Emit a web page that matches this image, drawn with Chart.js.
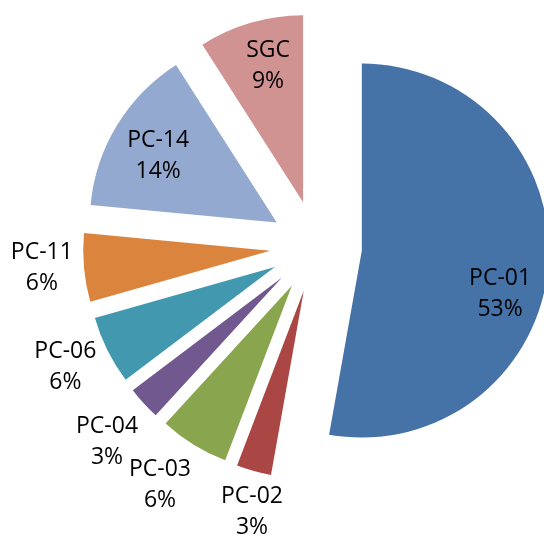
<!DOCTYPE html>
<html>
<head>
<meta charset="utf-8">
<script src="https://cdn.jsdelivr.net/npm/chart.js@4.4.0/dist/chart.umd.min.js"></script>
<style>
  html, body { margin: 0; padding: 0; background: #fff; }
  #wrap { width: 544px; height: 540px; }
</style>
</head>
<body>
<div id="wrap"><canvas id="shareChart" width="544" height="540"></canvas></div>
<script>
const labels = ["PC-01", "PC-02", "PC-03", "PC-04", "PC-06", "PC-11", "PC-14", "SGC"];
const shares = [52.8, 3.0, 6.0, 2.9, 5.9, 5.9, 14.45, 9.05];
const colors = ['#4572A7', '#AA4643', '#89A54E', '#71588F', '#4198AF', '#DB843D', '#93A9CF', '#D19392'];

// every slice pulled out from the centre by the same distance
const explode = 46;
// label placement: distance from slice tip and a small turn (degrees) off the mid angle
const labelDist = [145, 227, 239, 240, 232, 229, 136, 141];
const labelTurn = [12.5, -2.3, 1.8, -0.9, 1.0, 0.9, -2.1, 1.9];

const explodePlugin = {
    id: 'explode',
    afterDatasetUpdate(chart, args) {
        args.meta.data.forEach(arc => {
            const mid = (arc.startAngle + arc.endAngle) / 2;
            arc.x += Math.cos(mid) * explode;
            arc.y += Math.sin(mid) * explode;
        });
    }
};

const labelPlugin = {
    id: 'sliceLabels',
    afterDatasetsDraw(chart) {
        const ctx = chart.ctx;
        const meta = chart.getDatasetMeta(0);
        const total = shares.reduce((a, b) => a + b, 0);
        ctx.save();
        ctx.font = '23px "Open Sans"';
        ctx.fillStyle = '#000';
        ctx.textAlign = 'center';
        ctx.textBaseline = 'middle';
        meta.data.forEach((arc, i) => {
            const a = (arc.startAngle + arc.endAngle) / 2 + labelTurn[i] * Math.PI / 180;
            const x = arc.x + Math.cos(a) * labelDist[i];
            const y = arc.y + Math.sin(a) * labelDist[i];
            const pct = Math.round(shares[i] / total * 100) + '%';
            ctx.fillText(labels[i], x, y - 15.5);
            ctx.fillText(pct, x, y + 15.5);
        });
        ctx.restore();
    }
};

const ctx = document.getElementById('shareChart');

new Chart(ctx, {
    type: 'pie',
    data: {
        labels: labels,
        datasets: [{
            data: shares,
            backgroundColor: colors,
            borderWidth: 0,
            radius: 187
        }]
    },
    options: {
        responsive: false,
        devicePixelRatio: 1,
        animation: false,
        events: [],
        layout: {
            padding: { left: 88, right: 0, top: 0, bottom: 47 }
        },
        plugins: {
            legend: { display: false },
            tooltip: { enabled: false }
        }
    },
    plugins: [explodePlugin, labelPlugin]
});
</script>
</body>
</html>
